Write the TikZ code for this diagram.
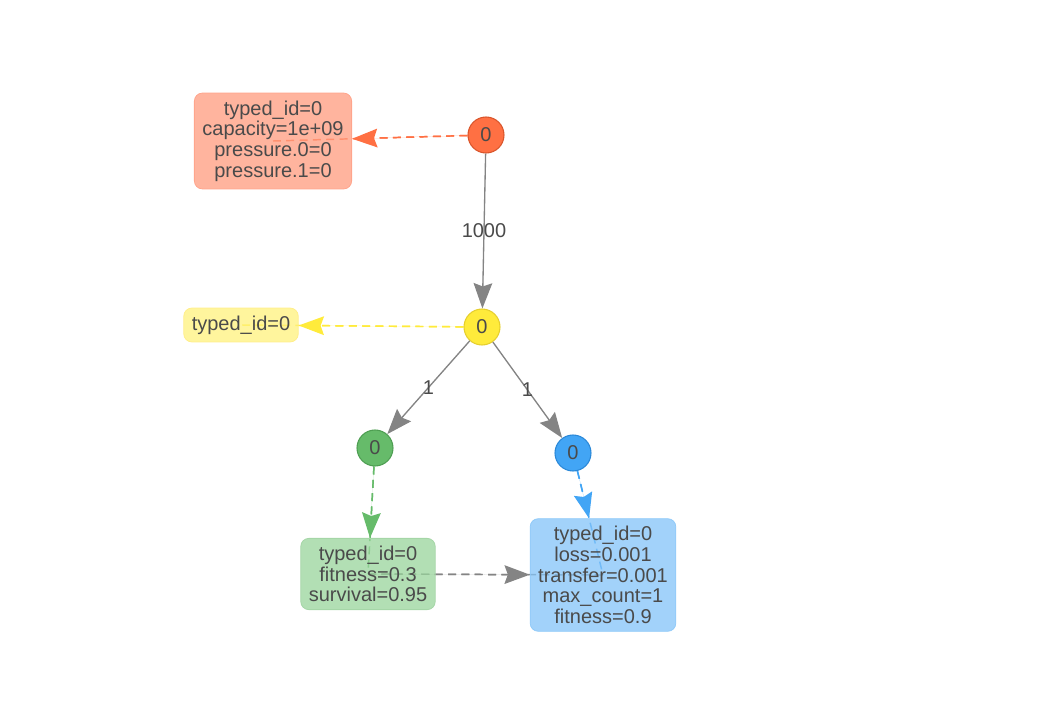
\documentclass[tikz,border=0pt]{standalone}
\usepackage{fontspec}
\setmainfont{Liberation Sans}
\usetikzlibrary{arrows.meta}
\pgfdeclarelayer{bg}
\pgfsetlayers{bg,main}
\definecolor{txt}{HTML}{4A4A4A}
\definecolor{edgegray}{HTML}{848484}
\definecolor{orC}{HTML}{FF7043}\definecolor{orCb}{HTML}{D9552B}
\definecolor{orBox}{HTML}{FF9B7E}\definecolor{orBoxb}{HTML}{FFA58C}
\definecolor{yeC}{HTML}{FFEB3B}\definecolor{yeCb}{HTML}{E6CF2E}
\definecolor{yeBox}{HTML}{FFF27C}\definecolor{yeBoxb}{HTML}{FFEE8A}
\definecolor{grC}{HTML}{66BB6A}\definecolor{grCb}{HTML}{4E9E52}
\definecolor{grBox}{HTML}{98D49B}\definecolor{grBoxb}{HTML}{A5D6A7}
\definecolor{blC}{HTML}{42A5F5}\definecolor{blCb}{HTML}{2A88D8}
\definecolor{blBox}{HTML}{83C3F8}\definecolor{blBoxb}{HTML}{90CAF9}
\tikzset{
  circ/.style 2 args={circle, fill=#1, draw=#2, line width=0.8pt, minimum size=27pt, inner sep=0pt, text=txt, font=\fontsize{15}{16}\selectfont},
  infobox/.style 2 args={rounded corners=6pt, fill=#1, fill opacity=0.75, text opacity=1, draw=#2, draw opacity=1, line width=0.6pt, align=center, text=txt, inner xsep=6pt, inner ysep=5.7pt, font=\fontsize{15}{15.5}\selectfont},
  dedge/.style={draw=#1, line width=1.1pt, dash pattern=on 6pt off 4pt},
  sedge/.style={draw=edgegray, line width=1pt},
  arrowhd/.style={-{Stealth[length=19pt, width=14pt, inset=2.5pt]}},
  lbl/.style={text=txt, font=\fontsize{15}{15.5}\selectfont, inner sep=0pt}
}
\begin{document}
\begin{tikzpicture}[x=0.75pt, y=-0.75pt]
\path[use as bounding box] (0,0) rectangle (1053,706);

\node[circ={orC}{orCb}] (o) at (486,135) {0};
\node[circ={yeC}{yeCb}] (y) at (482,327) {0};
\node[circ={grC}{grCb}] (g) at (375,448) {0};
\node[circ={blC}{blCb}] (b) at (573,453) {0};

\node[infobox={orBox}{orBoxb}] (ob) at (273,141) {typed\_id=0\\capacity=1e+09\\pressure.0=0\\pressure.1=0};
\node[infobox={yeBox}{yeBoxb}] (yb) at (241,325) {typed\_id=0};
\node[infobox={grBox}{grBoxb}] (gb) at (368,574) {typed\_id=0\\fitness=0.3\\survival=0.95};
\node[infobox={blBox}{blBoxb}] (bb) at (603,575) {typed\_id=0\\loss=0.001\\transfer=0.001\\max\_count=1\\fitness=0.9};

\begin{pgfonlayer}{bg}
\draw[dedge=orC] (o) -- (ob.center);
\draw[dedge=orC, fill=orC, arrowhd] (o) -- (ob);
\draw[dedge=yeC] (y) -- (yb.center);
\draw[dedge=yeC, fill=yeC, arrowhd] (y) -- (yb);
\draw[dedge=grC] (g) -- (gb.center);
\draw[dedge=grC, fill=grC, arrowhd] (g) -- (gb);
\draw[dedge=blC] (b) -- (bb.center);
\draw[dedge=blC, fill=blC, arrowhd] (b) -- (bb);
\draw[dedge=edgegray] (gb.center) -- (bb.center);
\draw[dedge=edgegray, fill=edgegray, arrowhd] (gb.center) -- (bb);
\end{pgfonlayer}

\draw[sedge, fill=edgegray, arrowhd] (o) -- node[lbl]{1000} (y);
\draw[sedge, fill=edgegray, arrowhd] (y) -- node[lbl]{1} (g);
\draw[sedge, fill=edgegray, arrowhd] (y) -- node[lbl]{1} (b);
\end{tikzpicture}
\end{document}
